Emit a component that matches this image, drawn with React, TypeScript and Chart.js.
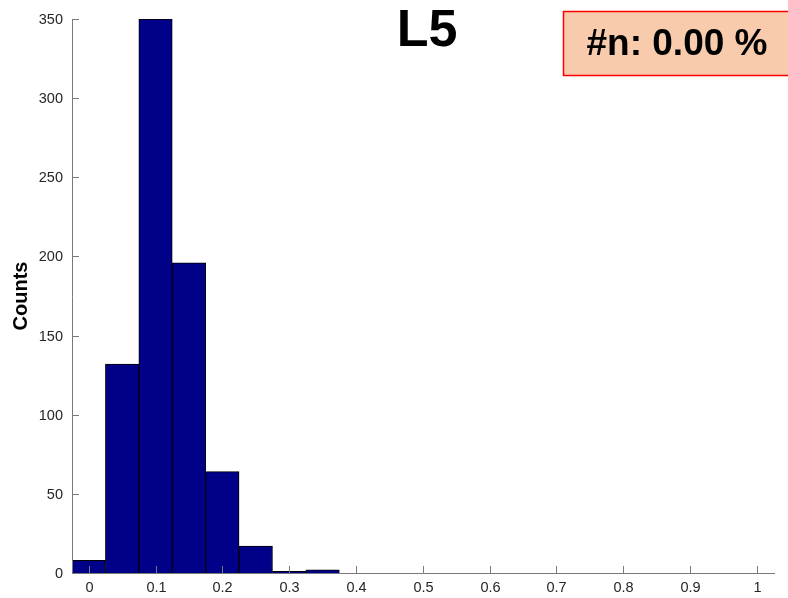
import React, { useEffect, useRef } from "react";
import { Chart, registerables } from "chart.js";

Chart.register(...registerables);

const binCenters = [0, 0.05, 0.1, 0.15, 0.2, 0.25, 0.3, 0.35];
const counts = [8, 132, 350, 196, 64, 17, 1, 2];
const xTicks = [0, 0.1, 0.2, 0.3, 0.4, 0.5, 0.6, 0.7, 0.8, 0.9, 1];
const xTickLabels = ["0", "0.1", "0.2", "0.3", "0.4", "0.5", "0.6", "0.7", "0.8", "0.9", "1"];
const yTicks = [0, 50, 100, 150, 200, 250, 300, 350];
const titleText = "L5";
const badgeText = "#n: 0.00 %";
const yLabel = "Counts";

const FONT = "'Liberation Sans', Arial, sans-serif";

const axesPlugin = {
  id: "matlabAxes",
  afterDraw(chart: any) {
    const ctx = chart.ctx as CanvasRenderingContext2D;
    const { left, right, top, bottom } = chart.chartArea;
    const xs = chart.scales.x;
    const ys = chart.scales.y;
    ctx.save();
    ctx.strokeStyle = "#7a7a7a";
    ctx.lineWidth = 1;
    ctx.beginPath();
    ctx.moveTo(left + 0.5, top);
    ctx.lineTo(left + 0.5, bottom + 0.5);
    ctx.lineTo(right, bottom + 0.5);
    ctx.stroke();
    // y ticks
    ctx.fillStyle = "#262626";
    ctx.font = `14.5px ${FONT}`;
    ctx.textAlign = "right";
    ctx.textBaseline = "middle";
    yTicks.forEach((v) => {
      const py = Math.round(ys.getPixelForValue(v)) + 0.5;
      ctx.beginPath();
      ctx.moveTo(left, py);
      ctx.lineTo(left + 7, py);
      ctx.stroke();
      ctx.fillText(String(v), left - 9, py);
    });
    // x ticks
    ctx.textAlign = "center";
    ctx.textBaseline = "middle";
    xTicks.forEach((v, i) => {
      const px = Math.round(xs.getPixelForValue(v)) + 0.5;
      ctx.beginPath();
      ctx.moveTo(px, bottom);
      ctx.lineTo(px, bottom - 7);
      ctx.stroke();
      ctx.fillText(xTickLabels[i], px, bottom + 15);
    });
    // y label
    ctx.save();
    ctx.translate(21, 296);
    ctx.rotate(-Math.PI / 2);
    ctx.fillStyle = "#000";
    ctx.font = `bold 20px ${FONT}`;
    ctx.textAlign = "center";
    ctx.textBaseline = "middle";
    ctx.fillText(yLabel, 0, 0);
    ctx.restore();
    // title
    ctx.fillStyle = "#000";
    ctx.font = `bold 52px ${FONT}`;
    ctx.textAlign = "center";
    ctx.textBaseline = "middle";
    ctx.fillText(titleText, 427, 32);
    // badge
    ctx.fillStyle = "#F8CBAD";
    ctx.fillRect(563, 11, 230, 65);
    ctx.strokeStyle = "#FF0000";
    ctx.lineWidth = 1.5;
    ctx.strokeRect(563.5, 11.5, 230, 64);
    ctx.fillStyle = "#000";
    ctx.font = `bold 37px ${FONT}`;
    ctx.fillText(badgeText, 677, 45);
    ctx.restore();
  },
};

export default function App() {
  const ref = useRef<HTMLCanvasElement | null>(null);
  useEffect(() => {
    document.body.style.margin = "0";
    const canvas = ref.current!;
    const chart = new Chart(canvas, {
      type: "bar",
      data: {
        datasets: [
          {
            data: binCenters.map((x, i) => ({ x, y: counts[i] })),
            backgroundColor: "#000088",
            borderColor: "#000000",
            borderWidth: 1,
            barPercentage: 1,
            categoryPercentage: 1,
          },
        ],
      },
      options: {
        animation: false,
        responsive: false,
        devicePixelRatio: 1,
        layout: { padding: { left: 72, top: 19, right: 13, bottom: 25 } },
        plugins: { legend: { display: false }, tooltip: { enabled: false } },
        scales: {
          x: { type: "linear", min: -0.025, max: 1.027, offset: false, display: false },
          y: { min: 0, max: 350, display: false },
        },
      },
      plugins: [axesPlugin],
    });
    return () => chart.destroy();
  }, []);
  return (
    <div style={{ width: 788, height: 598, position: "relative", background: "#fff" }}>
      <canvas ref={ref} width={788} height={598} />
    </div>
  );
}
